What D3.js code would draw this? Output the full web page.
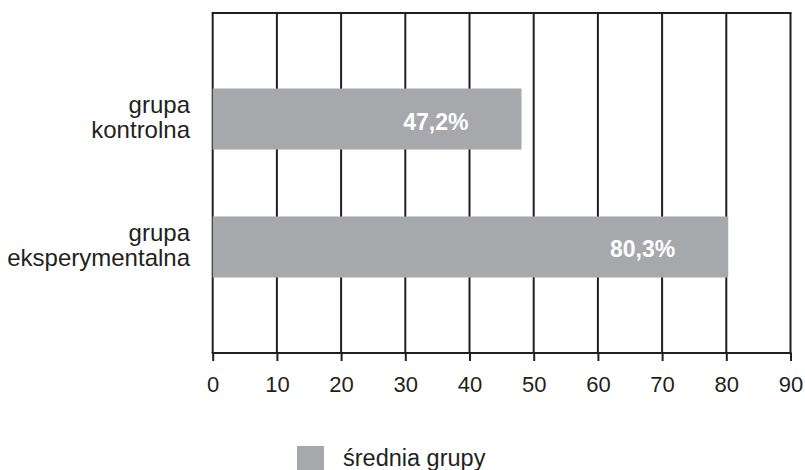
<!DOCTYPE html>
<html>
<head>
<meta charset="utf-8">
<script src="https://cdn.jsdelivr.net/npm/d3@7/dist/d3.min.js"></script>
<style>
  body { margin: 0; background: #fff; }
  svg { display: block; font-family: "Liberation Sans", Arial, Helvetica, sans-serif; }
</style>
</head>
<body>
<svg id="chart" width="805" height="470"></svg>
<script>
// ---- data ----
const categories = [["grupa", "kontrolna"], ["grupa", "eksperymentalna"]];
const values = [48.1, 80.3];
const valueLabels = ["47,2%", "80,3%"];
const tickValues = [0, 10, 20, 30, 40, 50, 60, 70, 80, 90];
const seriesName = "średnia grupy";

// ---- layout ----
const svg = d3.select("#chart");
const plotLeft = 212.7, plotRight = 790.5, plotTop = 13, plotBottom = 353;
const ink = "#231f20", barColor = "#a7a8ab";

const x = d3.scaleLinear().domain([0, 90]).range([plotLeft, plotRight]);
const y = d3.scaleBand().domain(d3.range(categories.length)).range([plotTop, plotBottom])
  .paddingInner(0.523).paddingOuter(0.59);

// grid lines
svg.append("g").selectAll("line").data(tickValues).join("line")
  .attr("x1", d => x(d)).attr("x2", d => x(d))
  .attr("y1", plotTop).attr("y2", plotBottom)
  .attr("stroke", ink).attr("stroke-width", 2);

// top border
svg.append("line").attr("x1", plotLeft - 1).attr("x2", plotRight + 1)
  .attr("y1", plotTop).attr("y2", plotTop).attr("stroke", ink).attr("stroke-width", 2);

// bars
svg.append("g").selectAll("rect").data(values).join("rect")
  .attr("x", x(0))
  .attr("y", (d, i) => y(i))
  .attr("width", d => x(d) - x(0))
  .attr("height", y.bandwidth())
  .attr("fill", barColor);

// value labels
svg.append("g").selectAll("text").data(values).join("text")
  .attr("x", d => x(d) - 53)
  .attr("y", (d, i) => y(i) + y.bandwidth() / 2 + 10.5)
  .attr("text-anchor", "end")
  .attr("fill", "#fff")
  .attr("font-weight", "bold")
  .attr("font-size", 23)
  .text((d, i) => valueLabels[i]);

// x axis
const axis = d3.axisBottom(x).tickValues(tickValues).tickSize(8).tickPadding(15)
  .tickFormat(d3.format("d"));
const ax = svg.append("g").attr("transform", `translate(0,${plotBottom})`).call(axis);
ax.attr("font-size", 22).attr("font-family", "'Liberation Sans', Arial, sans-serif");
ax.select(".domain").attr("stroke", ink).attr("stroke-width", 2)
  .attr("d", `M${plotLeft - 1},0H${plotRight + 1}`);
ax.selectAll(".tick line").attr("stroke", ink).attr("stroke-width", 2);
ax.selectAll(".tick text").attr("fill", ink);

// category labels
const cat = svg.append("g").selectAll("text").data(categories).join("text")
  .attr("text-anchor", "end")
  .attr("font-size", 24)
  .attr("fill", ink)
  .attr("transform", (d, i) => `translate(190,${y(i) + y.bandwidth() / 2})`);
cat.selectAll("tspan").data(d => d).join("tspan")
  .attr("x", 0)
  .attr("y", (d, j) => j === 0 ? -6 : 19)
  .text(d => d);

// legend
const lg = svg.append("g").attr("transform", "translate(297,446)");
lg.append("rect").attr("width", 27).attr("height", 27).attr("fill", barColor);
lg.append("text").attr("x", 46).attr("y", 20).attr("font-size", 23.5).attr("fill", ink).text(seriesName);
</script>
</body>
</html>
